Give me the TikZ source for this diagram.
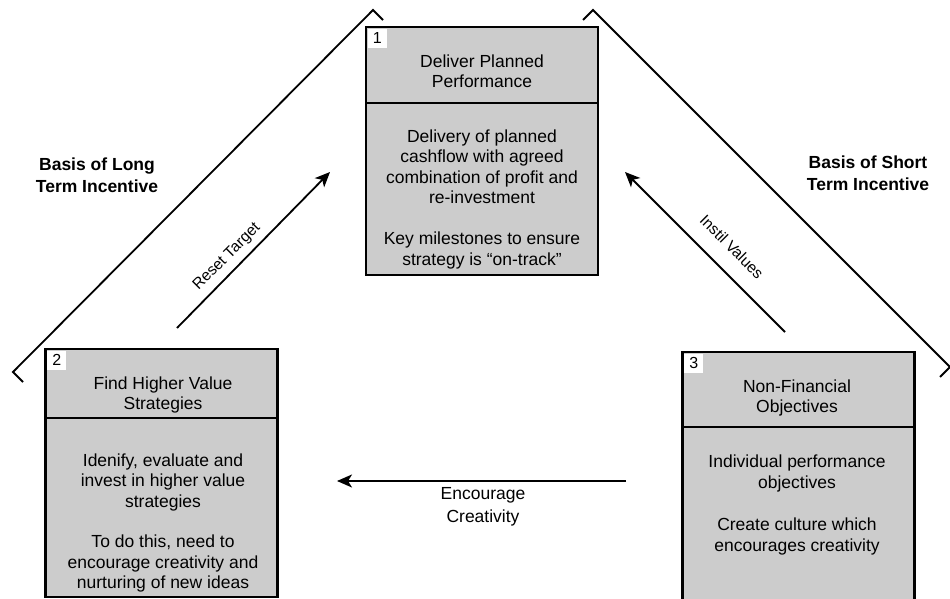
\documentclass[tikz,border=0pt]{standalone}
\usepackage{fontspec}
\setmainfont{Liberation Sans}
\usetikzlibrary{arrows.meta}

\begin{document}
\begin{tikzpicture}[x=1pt, y=-1pt,
  boxhead/.style={draw, line width=2.6pt, fill=black!20, minimum width=232pt, inner sep=0pt},
  boxbody/.style={draw, line width=2.6pt, fill=black!20, minimum width=232pt, inner sep=0pt},
  numbox/.style={anchor=north west, fill=white, minimum size=19pt, inner sep=0pt, font=\fontsize{16}{16}\selectfont},
  boxtext/.style={align=center, font=\fontsize{17.5}{20.5}\selectfont},
  basis/.style={align=center, font=\bfseries\fontsize{17.5}{21.5}\selectfont},
  turned/.style={font=\fontsize{15.5}{18}\selectfont},
  roof/.style={line width=1.8pt, line join=miter},
  flow/.style={-{Stealth[length=15pt,width=13pt,inset=4pt]}, line width=1.8pt}]

\useasboundingbox (0,0) rectangle (950,599);

% Roof lines
\draw[roof] (23,382) -- (13,372) -- (373,10) -- (383,20);
\draw[roof] (583,20) -- (593,10) -- (950,367) -- (940,377);

% Incentive labels
\node[basis] (longterm) at (97,175) {Basis of Long\\Term Incentive};
\node[basis] (shortterm) at (868,173) {Basis of Short\\Term Incentive};

% Box 1
\node[boxhead, minimum height=76pt] (tophead) at (482,65) {};
\node[boxbody, minimum height=172pt] (topbody) at (482,189) {};
\node[numbox] (num1) at ([shift={(2.8,2.8)}]tophead.north west) {1};
\node[boxtext] (toptitle) at (482,71) {Deliver Planned\\Performance};
\node[boxtext] (toptext) at (482,199)
{Delivery of planned\\cashflow with agreed\\combination of profit and\\re-investment\\[20.5pt]Key milestones to ensure\\strategy is “on-track”};

% Box 2
\node[boxhead, minimum height=69pt] (lefthead) at (161.5,383.5) {};
\node[boxbody, minimum height=179pt] (leftbody) at (161.5,507.5) {};
\node[numbox] (num2) at ([shift={(2.8,2.8)}]lefthead.north west) {2};
\node[boxtext] (lefttitle) at (163,395) {Find Higher Value\\Strategies};
\node[boxtext] (lefttext) at (163,523)
{Idenify, evaluate and\\invest in higher value\\strategies\\[20pt]To do this, need to\\encourage creativity and\\nurturing of new ideas};

% Box 3
\node[boxhead, minimum height=75pt] (righthead) at (798.5,389.5) {};
\node[boxbody, minimum height=185pt] (rightbody) at (798.5,519.5) {};
\node[numbox] (num3) at ([shift={(2.8,2.8)}]righthead.north west) {3};
\node[boxtext] (righttitle) at (797,398) {Non-Financial\\Objectives};
\node[boxtext] (righttext) at (797,505)
{Individual performance\\objectives\\[22pt]Create culture which\\encourages creativity};

% Arrows between the boxes
\coordinate (reset-start) at (177,328);
\coordinate (reset-end) at (330,172);
\draw[flow] (reset-start) -- (reset-end);
\node[turned, rotate=45] (resetlabel) at (227,257) {Reset Target};

\coordinate (instil-start) at (785,332);
\coordinate (instil-end) at (625,172);
\draw[flow] (instil-start) -- (instil-end);
\node[turned, rotate=-45] (instillabel) at (732,247) {Instil Values};

\coordinate (encourage-start) at (626,481);
\coordinate (encourage-end) at (337,481);
\draw[flow] (encourage-start) -- (encourage-end);
\node[boxtext, font=\fontsize{17.5}{22.5}\selectfont] (encouragelabel) at (483,507) {Encourage\\Creativity};

\end{tikzpicture}
\end{document}
